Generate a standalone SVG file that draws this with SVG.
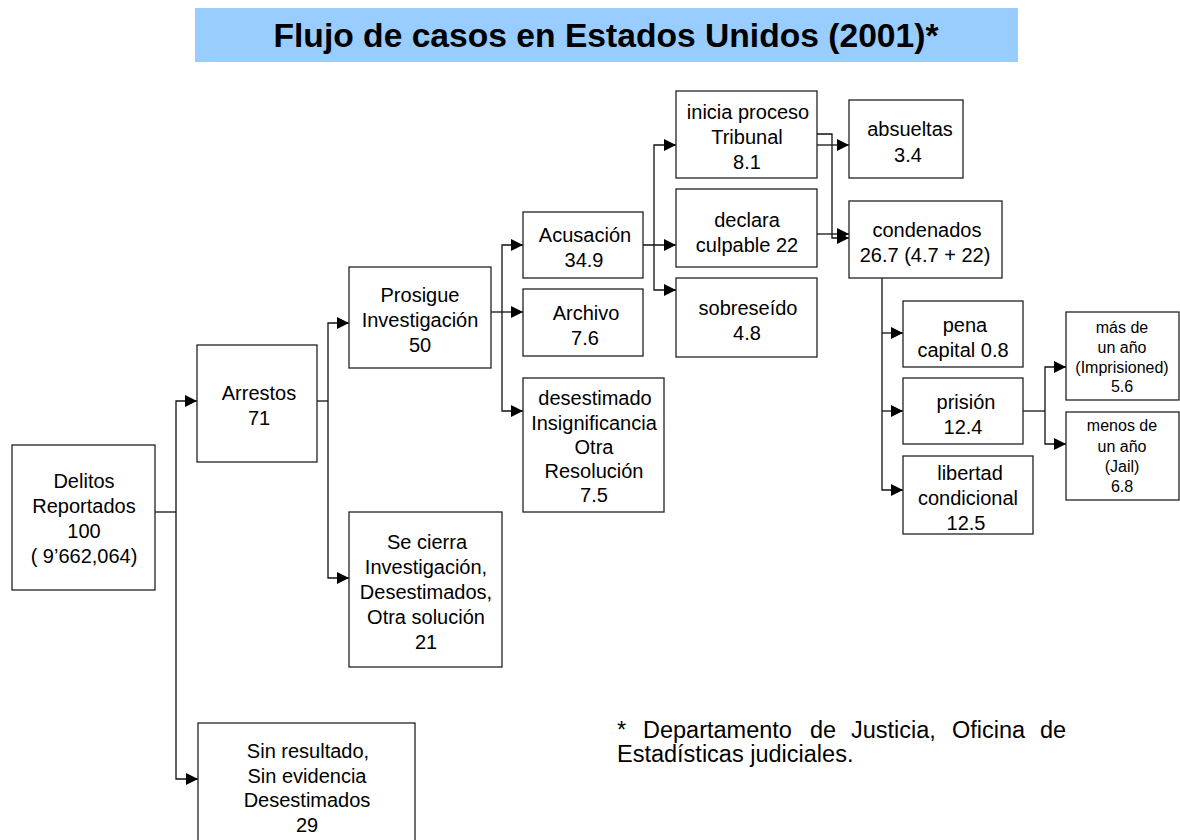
<svg xmlns="http://www.w3.org/2000/svg" width="1180" height="840" viewBox="0 0 1180 840">
<defs>
<marker id="arr" markerUnits="userSpaceOnUse" markerWidth="13" markerHeight="12" refX="12" refY="6" orient="auto">
<path d="M0,0 L12,6 L0,12 z" fill="#000"/>
</marker>
<style>
.box{fill:#fff;stroke:#222;stroke-width:1.3}
.t{font-family:"Liberation Sans",Arial,sans-serif;font-size:20px;fill:#000;text-anchor:middle}
.s{font-family:"Liberation Sans",Arial,sans-serif;font-size:16px;fill:#000;text-anchor:middle}
.fn{font-family:"Liberation Sans",Arial,sans-serif;font-size:23.5px;fill:#000}
.c{fill:none;stroke:#111;stroke-width:1.3}
.ca{fill:none;stroke:#111;stroke-width:1.3;marker-end:url(#arr)}
</style>
</defs>
<rect width="1180" height="840" fill="#fff"/>
<g id="title">
<rect x="195" y="8" width="823" height="54" fill="#99CCFF"/>
<text x="606" y="47" font-family="Liberation Sans,Arial,sans-serif" font-size="33" font-weight="bold" text-anchor="middle" textLength="665" lengthAdjust="spacingAndGlyphs">Flujo de casos en Estados Unidos (2001)*</text>
</g>
<g id="connectors">
<path class="c" d="M155,512 H176"/>
<path class="ca" d="M176,512 V401 H197"/>
<path class="ca" d="M176,512 V779 H198"/>
<path class="c" d="M317,401 H328"/>
<path class="ca" d="M328,401 V323 H349"/>
<path class="ca" d="M328,401 V578 H349"/>
<path class="ca" d="M491,312 H523"/>
<path class="ca" d="M502,312 V245 H523"/>
<path class="ca" d="M502,312 V411 H523"/>
<path class="ca" d="M643,245 H676"/>
<path class="ca" d="M654,245 V145 H676"/>
<path class="ca" d="M654,245 V290 H676"/>
<path class="ca" d="M817,145 H849"/>
<path class="ca" d="M817,134 H832 V238 H849"/>
<path class="ca" d="M817,234 H849"/>
<path class="ca" d="M882,278 V490 H903"/>
<path class="ca" d="M882,333 H903"/>
<path class="ca" d="M882,411 H903"/>
<path class="c" d="M1023,411 H1045"/>
<path class="ca" d="M1045,411 V367 H1066"/>
<path class="ca" d="M1045,411 V444 H1066"/>
</g>
<g id="delitos">
<rect class="box" x="12" y="445" width="143" height="145"/>
<text class="t" x="84"><tspan x="84" y="488">Delitos</tspan><tspan x="84" y="513">Reportados</tspan><tspan x="84" y="538">100</tspan><tspan x="84" y="563">( 9’662,064)</tspan></text>
</g>
<g id="arrestos">
<rect class="box" x="197" y="345" width="120" height="117"/>
<text class="t"><tspan x="259" y="400">Arrestos</tspan><tspan x="259" y="425">71</tspan></text>
</g>
<g id="prosigue">
<rect class="box" x="349" y="267" width="142" height="101"/>
<text class="t"><tspan x="420" y="302">Prosigue</tspan><tspan x="420" y="327">Investigación</tspan><tspan x="420" y="352">50</tspan></text>
</g>
<g id="secierra">
<rect class="box" x="349" y="512" width="153" height="155"/>
<text class="t"><tspan x="427" y="549">Se cierra</tspan><tspan x="426" y="574">Investigación,</tspan><tspan x="426" y="599">Desestimados,</tspan><tspan x="426" y="624">Otra solución</tspan><tspan x="426" y="649">21</tspan></text>
</g>
<g id="sinresultado">
<rect class="box" x="198" y="723" width="217" height="130"/>
<text class="t"><tspan x="308" y="758">Sin resultado,</tspan><tspan x="307" y="783">Sin evidencia</tspan><tspan x="307" y="807">Desestimados</tspan><tspan x="307" y="832">29</tspan></text>
</g>
<g id="acusacion">
<rect class="box" x="523" y="212" width="120" height="66"/>
<text class="t"><tspan x="585" y="242">Acusación</tspan><tspan x="584" y="267">34.9</tspan></text>
</g>
<g id="archivo">
<rect class="box" x="523" y="289" width="120" height="67"/>
<text class="t"><tspan x="586" y="320">Archivo</tspan><tspan x="585" y="345">7.6</tspan></text>
</g>
<g id="desestimado">
<rect class="box" x="523" y="378" width="141" height="134"/>
<text class="t"><tspan x="595" y="405">desestimado</tspan><tspan x="594" y="430">Insignificancia</tspan><tspan x="594" y="454">Otra</tspan><tspan x="594" y="478">Resolución</tspan><tspan x="594" y="502">7.5</tspan></text>
</g>
<g id="inicia">
<rect class="box" x="676" y="91" width="141" height="87"/>
<text class="t"><tspan x="748" y="119">inicia proceso</tspan><tspan x="747" y="144">Tribunal</tspan><tspan x="747" y="169">8.1</tspan></text>
</g>
<g id="declara">
<rect class="box" x="676" y="189" width="141" height="78"/>
<text class="t"><tspan x="747" y="227">declara</tspan><tspan x="747" y="252">culpable 22</tspan></text>
</g>
<g id="sobreseido">
<rect class="box" x="676" y="278" width="141" height="79"/>
<text class="t"><tspan x="748" y="315">sobreseído</tspan><tspan x="747" y="340">4.8</tspan></text>
</g>
<g id="absueltas">
<rect class="box" x="849" y="100" width="114" height="78"/>
<text class="t"><tspan x="910" y="136">absueltas</tspan><tspan x="908" y="162">3.4</tspan></text>
</g>
<g id="condenados">
<rect class="box" x="849" y="201" width="153" height="77"/>
<text class="t"><tspan x="927" y="237">condenados</tspan><tspan x="925" y="262">26.7 (4.7 + 22)</tspan></text>
</g>
<g id="pena">
<rect class="box" x="903" y="301" width="120" height="66"/>
<text class="t"><tspan x="965" y="332">pena</tspan><tspan x="963" y="357">capital 0.8</tspan></text>
</g>
<g id="prision">
<rect class="box" x="903" y="378" width="120" height="66"/>
<text class="t"><tspan x="966" y="409">prisión</tspan><tspan x="963" y="434">12.4</tspan></text>
</g>
<g id="libertad">
<rect class="box" x="903" y="456" width="130" height="78"/>
<text class="t"><tspan x="970" y="480">libertad</tspan><tspan x="968" y="505">condicional</tspan><tspan x="966" y="530">12.5</tspan></text>
</g>
<g id="masdeunano">
<rect class="box" x="1066" y="312" width="113" height="88"/>
<text class="s"><tspan x="1122" y="333">más de</tspan><tspan x="1122" y="353">un año</tspan><tspan x="1122" y="373">(Imprisioned)</tspan><tspan x="1122" y="392">5.6</tspan></text>
</g>
<g id="menosdeunano">
<rect class="box" x="1066" y="412" width="113" height="88"/>
<text class="s"><tspan x="1122" y="431">menos de</tspan><tspan x="1122" y="452">un año</tspan><tspan x="1122" y="472">(Jail)</tspan><tspan x="1122" y="492">6.8</tspan></text>
</g>
<g id="footnote">
<text class="fn" y="738"><tspan x="617">*</tspan><tspan x="643">Departamento</tspan><tspan x="810">de</tspan><tspan x="851">Justicia,</tspan><tspan x="952">Oficina</tspan><tspan x="1040">de</tspan></text>
<text class="fn" x="617" y="762">Estadísticas judiciales.</text>
</g>
</svg>
